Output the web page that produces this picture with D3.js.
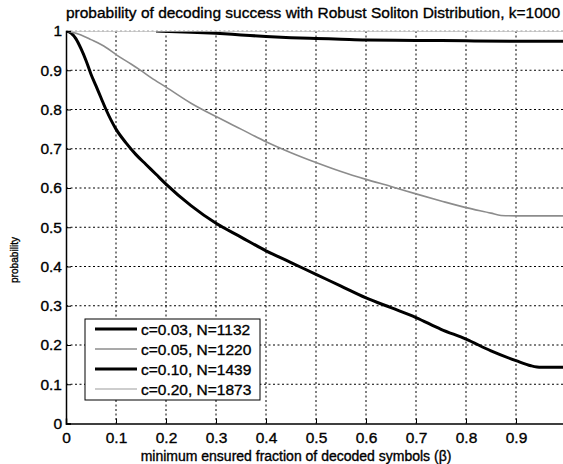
<!DOCTYPE html>
<html>
<head>
<meta charset="utf-8">
<script src="https://cdn.jsdelivr.net/npm/d3@7"></script>
<style>
  body { margin: 0; background: #fff; }
  text { font-family: "Liberation Sans", Arial, sans-serif; fill: #000; stroke: #000; stroke-width: 0.35px; }
</style>
</head>
<body>
<div id="chart"></div>
<script>
// ----------------------------------------------------------------
// Data
// ----------------------------------------------------------------

const xTicks = [0, 0.1, 0.2, 0.3, 0.4, 0.5, 0.6, 0.7, 0.8, 0.9];
const yTicks = [0, 0.1, 0.2, 0.3, 0.4, 0.5, 0.6, 0.7, 0.8, 0.9, 1];

const seriesNames = ["c=0.03, N=1132", "c=0.05, N=1220", "c=0.10, N=1439", "c=0.20, N=1873"];

const beta003 = [0, 0.01, 0.02, 0.03, 0.04, 0.05, 0.06, 0.07, 0.08, 0.1, 0.12, 0.14, 0.16, 0.18, 0.2, 0.25, 0.3, 0.35, 0.4, 0.45, 0.5, 0.55, 0.6, 0.65, 0.7, 0.75, 0.8, 0.85, 0.9, 0.93, 0.95, 1.0];
const prob003 = [1.0, 0.995, 0.98, 0.955, 0.925, 0.89, 0.86, 0.83, 0.80, 0.75, 0.715, 0.685, 0.66, 0.635, 0.61, 0.555, 0.51, 0.475, 0.44, 0.41, 0.38, 0.35, 0.32, 0.295, 0.27, 0.24, 0.215, 0.185, 0.16, 0.147, 0.143, 0.143];

const beta005 = [0, 0.03, 0.05, 0.08, 0.1, 0.13, 0.15, 0.17, 0.2, 0.25, 0.3, 0.35, 0.4, 0.45, 0.5, 0.55, 0.6, 0.65, 0.7, 0.75, 0.8, 0.85, 0.87, 0.9, 1.0];
const prob005 = [1.0, 0.99, 0.978, 0.958, 0.94, 0.916, 0.899, 0.881, 0.857, 0.816, 0.782, 0.75, 0.718, 0.69, 0.665, 0.642, 0.622, 0.604, 0.585, 0.567, 0.55, 0.536, 0.53, 0.529, 0.529];

const beta010 = [0.18, 0.25, 0.3, 0.35, 0.4, 0.45, 0.5, 0.55, 0.6, 0.7, 0.8, 0.9, 1.0];
const prob010 = [1.0, 0.997, 0.994, 0.99, 0.986, 0.983, 0.981, 0.979, 0.977, 0.976, 0.975, 0.974, 0.974];

const beta020 = [0, 0.25, 0.5, 0.75, 1.0];
const prob020 = [1.0, 1.0, 1.0, 1.0, 1.0];

// ----------------------------------------------------------------
// Layout
// ----------------------------------------------------------------

const width = 563;
const height = 464;
const plot = { left: 66, right: 566, top: 31, bottom: 423.5 };
const fontSize = 15.5;

const styles = [
  { color: "#000", width: 3 },
  { color: "#8c8c8c", width: 1.6 },
  { color: "#000", width: 3 },
  { color: "#bdbdbd", width: 1.3 }
];

function zip (xs, ys) {
  return xs.map(function (x, i) { return [x, ys[i]]; });
}

const series = [
  zip(beta003, prob003),
  zip(beta005, prob005),
  zip(beta010, prob010),
  zip(beta020, prob020)
];

// ----------------------------------------------------------------
// Draw
// ----------------------------------------------------------------

const svg = d3.select("#chart").append("svg")
  .attr("width", width)
  .attr("height", height);

const x = d3.scaleLinear().domain([0, 1]).range([plot.left, plot.right]);
const y = d3.scaleLinear().domain([0, 1]).range([plot.bottom, plot.top]);

svg.append("clipPath").attr("id", "plot-clip")
  .append("rect")
  .attr("x", plot.left).attr("y", plot.top)
  .attr("width", plot.right - plot.left).attr("height", plot.bottom - plot.top);

// grid
svg.append("g").selectAll("line").data(xTicks.filter(function (d) { return d > 0; }))
  .join("line")
  .attr("x1", function (d) { return x(d); }).attr("x2", function (d) { return x(d); })
  .attr("y1", plot.top).attr("y2", plot.bottom)
  .attr("stroke", "#000").attr("stroke-width", 1).attr("stroke-dasharray", "2,2.5");

svg.append("g").selectAll("line").data(yTicks.filter(function (d) { return d > 0 && d < 1; }))
  .join("line")
  .attr("y1", function (d) { return y(d); }).attr("y2", function (d) { return y(d); })
  .attr("x1", plot.left).attr("x2", plot.right)
  .attr("stroke", "#000").attr("stroke-width", 1).attr("stroke-dasharray", "2,2.5");

// top grid line (faint)
svg.append("line")
  .attr("x1", plot.left).attr("x2", plot.right)
  .attr("y1", y(1)).attr("y2", y(1))
  .attr("stroke", "#999").attr("stroke-width", 1).attr("stroke-dasharray", "2,2.5");

// curves
const line = d3.line()
  .x(function (d) { return x(d[0]); })
  .y(function (d) { return y(d[1]); })
  .curve(d3.curveMonotoneX);

svg.append("g").attr("clip-path", "url(#plot-clip)")
  .selectAll("path").data(series)
  .join("path")
  .attr("d", line)
  .attr("fill", "none")
  .attr("stroke", function (d, i) { return styles[i].color; })
  .attr("stroke-width", function (d, i) { return styles[i].width; })
  .attr("stroke-linejoin", "round");

// axes
const xAxis = d3.axisBottom(x).tickValues(xTicks).tickSize(-5).tickPadding(8)
  .tickFormat(function (d) { return d === 0 ? "0" : d3.format(".1f")(d); });
const yAxis = d3.axisLeft(y).tickValues(yTicks).tickSize(-5).tickPadding(4)
  .tickFormat(function (d) { return d === 0 || d === 1 ? String(d) : d3.format(".1f")(d); });

const gx = svg.append("g").attr("transform", "translate(0," + plot.bottom + ")").call(xAxis);
const gy = svg.append("g").attr("transform", "translate(" + plot.left + ",0)").call(yAxis);

[gx, gy].forEach(function (g) {
  g.select(".domain").attr("stroke", "#000").attr("stroke-width", 1.5);
  g.selectAll(".tick line").attr("stroke", "#000");
  g.selectAll(".tick text").attr("font-size", fontSize).attr("font-family", "Liberation Sans, Arial, sans-serif");
});

// title and labels
svg.append("text")
  .attr("x", 313).attr("y", 18)
  .attr("text-anchor", "middle")
  .attr("font-size", fontSize)
  .text("probability of decoding success with Robust Soliton Distribution, k=1000");

svg.append("text")
  .attr("x", 296).attr("y", 461)
  .attr("text-anchor", "middle")
  .attr("font-size", 14)
  .text("minimum ensured fraction of decoded symbols (\u03B2)");

svg.append("text")
  .attr("transform", "translate(18,260) rotate(-90)")
  .attr("text-anchor", "middle")
  .attr("font-size", 10)
  .attr("textLength", 46)
  .attr("lengthAdjust", "spacingAndGlyphs")
  .text("probability");

// legend
const legend = svg.append("g");
legend.append("rect")
  .attr("x", 85).attr("y", 319).attr("width", 175).attr("height", 81)
  .attr("fill", "#fff").attr("stroke", "#000").attr("stroke-width", 1);

const rows = legend.selectAll("g.row").data(seriesNames)
  .join("g").attr("class", "row")
  .attr("transform", function (d, i) { return "translate(0," + (329 + i * 20) + ")"; });

rows.append("line")
  .attr("x1", 95).attr("x2", 137).attr("y1", 0).attr("y2", 0)
  .attr("stroke", function (d, i) { return styles[i].color; })
  .attr("stroke-width", function (d, i) { return styles[i].width; });

rows.append("text")
  .attr("x", 141).attr("y", 5.5)
  .attr("font-size", fontSize)
  .text(function (d) { return d; });
</script>
</body>
</html>
